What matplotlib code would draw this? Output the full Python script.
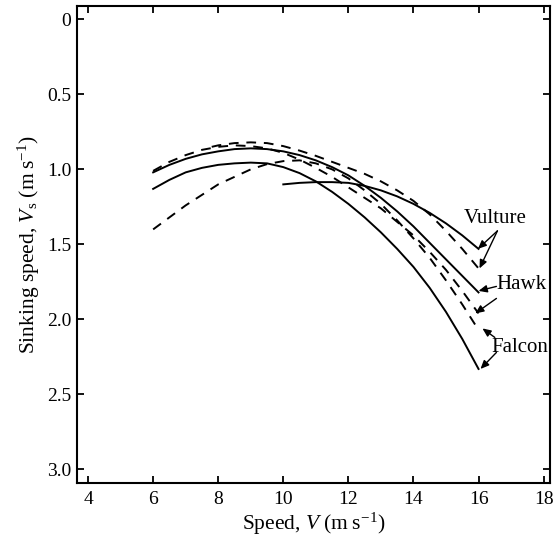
from matplotlib import pyplot as plt
import numpy as np

speed_full = [6, 6.5, 7, 7.5, 8, 8.5, 9, 9.5, 10, 10.5, 11, 11.5, 12, 12.5, 13, 13.5, 14, 14.5, 15, 15.5, 16]
speed_vulture = [10, 10.5, 11, 11.5, 12, 12.5, 13, 13.5, 14, 14.5, 15, 15.5, 16]
speed_vulture_dash = [7.8, 8, 8.5, 9, 9.5, 10, 10.5, 11, 11.5, 12, 12.5, 13, 13.5, 14, 14.5, 15, 15.5, 16]

# sinking speed (m/s), solid curves
hawk_solid = [1.02, 0.97, 0.93, 0.90, 0.88, 0.865, 0.86, 0.865, 0.88, 0.905, 0.94,
              0.985, 1.04, 1.11, 1.19, 1.28, 1.38, 1.49, 1.60, 1.71, 1.82]
falcon_solid = [1.13, 1.07, 1.02, 0.99, 0.97, 0.96, 0.955, 0.96, 0.985, 1.025, 1.08,
                1.15, 1.23, 1.32, 1.42, 1.53, 1.65, 1.79, 1.95, 2.13, 2.33]
vulture_solid = [1.10, 1.09, 1.085, 1.085, 1.09, 1.11, 1.14, 1.18, 1.23, 1.29, 1.36, 1.44, 1.53]

# dashed curves
hawk_dash = [1.01, 0.95, 0.905, 0.87, 0.85, 0.84, 0.845, 0.86, 0.89, 0.935, 0.99,
             1.05, 1.12, 1.19, 1.26, 1.35, 1.44, 1.55, 1.67, 1.81, 1.96]
falcon_dash = [1.40, 1.32, 1.24, 1.17, 1.10, 1.05, 1.00, 0.965, 0.945, 0.94, 0.96,
               1.00, 1.06, 1.14, 1.23, 1.34, 1.46, 1.59, 1.74, 1.90, 2.07]
vulture_dash = [0.85, 0.84, 0.825, 0.82, 0.825, 0.845, 0.875, 0.91, 0.95, 0.99,
                1.03, 1.08, 1.14, 1.21, 1.30, 1.41, 1.53, 1.66]

x_ticks = [4, 6, 8, 10, 12, 14, 16, 18]
y_ticks = [0, 0.5, 1.0, 1.5, 2.0, 2.5, 3.0]
y_tick_labels = ['0', '0.5', '1.0', '1.5', '2.0', '2.5', '3.0']

# label text, text position, and arrow targets (end of each curve)
labels = ['Vulture', 'Hawk', 'Falcon']
label_pos = [(15.56, 1.33), (16.55, 1.77), (16.4, 2.19)]
arrow_tails = [[(16.58, 1.41), (16.58, 1.41)],
               [(16.55, 1.78), (16.55, 1.86)],
               [(16.5, 2.12), (16.55, 2.22)]]
arrow_heads = [[(15.98, 1.53), (16.03, 1.66)],
               [(16.0, 1.81), (15.9, 1.96)],
               [(16.12, 2.06), (16.06, 2.33)]]

plt.rcParams['font.family'] = 'Liberation Serif'
plt.rcParams['mathtext.fontset'] = 'custom'
plt.rcParams['mathtext.rm'] = 'Liberation Serif'
plt.rcParams['mathtext.it'] = 'Liberation Serif:italic'

fig = plt.figure(figsize=(5.54, 5.43), dpi=100)
ax = fig.add_axes([0.139, 0.1105, 0.854, 0.878])

lw = 1.4
ax.plot(speed_full, hawk_solid, color='black', lw=lw)
ax.plot(speed_full, falcon_solid, color='black', lw=lw)
ax.plot(speed_vulture, vulture_solid, color='black', lw=lw)
ax.plot(speed_full, hawk_dash, color='black', lw=lw, dashes=(5, 4))
ax.plot(speed_full, falcon_dash, color='black', lw=lw, dashes=(5, 4))
ax.plot(speed_vulture_dash, vulture_dash, color='black', lw=lw, dashes=(5, 4))

for name, pos, tails, heads in zip(labels, label_pos, arrow_tails, arrow_heads):
    ax.text(pos[0], pos[1], name, fontsize=15, va='center', ha='left')
    for t, h in zip(tails, heads):
        ax.annotate('', xy=h, xytext=t,
                    arrowprops=dict(arrowstyle='-|>,head_length=0.5,head_width=0.22',
                                    color='black', lw=1.0, shrinkA=0, shrinkB=0))

ax.set_xlim(3.66, 18.2)
ax.set_ylim(3.09, -0.087)
ax.set_xticks(x_ticks)
ax.set_yticks(y_ticks)
ax.set_yticklabels(y_tick_labels)
ax.tick_params(direction='in', length=5, width=1.3, labelsize=14,
               top=True, right=True)
ax.tick_params(axis='x', pad=6)
ax.tick_params(axis='y', pad=4)
for s in ax.spines.values():
    s.set_linewidth(1.5)

ax.set_xlabel('Speed, $V$ (m\u2009s$^{-1}$)', fontsize=15.5, labelpad=2)
ax.set_ylabel('Sinking speed, $V_\\mathrm{s}$ (m\u2009s$^{-1}$)', fontsize=15.5, labelpad=4)

fig.savefig('out.png', dpi=100)
